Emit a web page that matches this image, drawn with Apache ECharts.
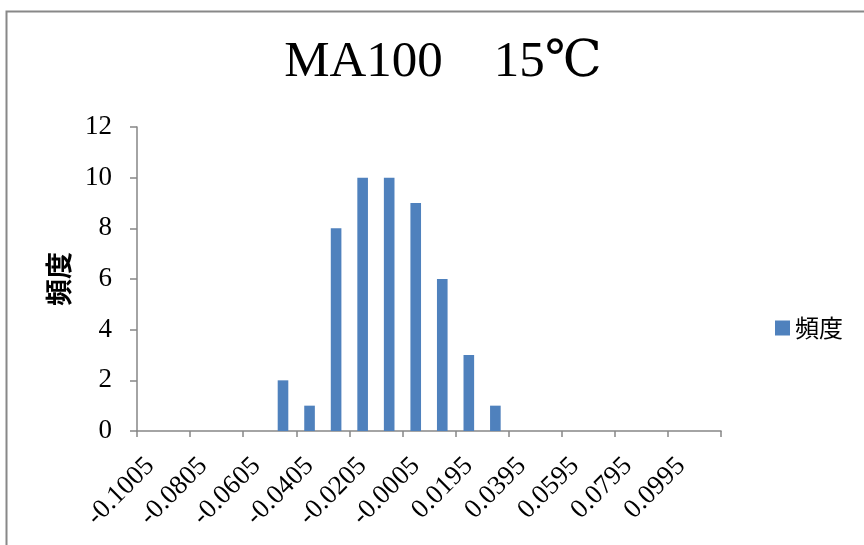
<!DOCTYPE html>
<html><head><meta charset="utf-8">
<script src="https://cdn.jsdelivr.net/npm/echarts@6/dist/echarts.min.js"></script>
<style>html,body{margin:0;padding:0;background:#fff}#c{width:864px;height:545px}</style>
</head><body><div id="c"></div>
<script>
const categories = ["-0.1005","-0.0905","-0.0805","-0.0705","-0.0605","-0.0505","-0.0405","-0.0305","-0.0205","-0.0105","-0.0005","0.0095","0.0195","0.0295","0.0395","0.0495","0.0595","0.0695","0.0795","0.0895","0.0995","次の級"];
const freq = [0,0,0,0,0,2,1,8,10,10,9,6,3,1,0,0,0,0,0,0,0,0];
const yTicks = [0,2,4,6,8,10,12];
const titleText = "MA100　15℃";
const seriesName = "頻度";

const chart = echarts.init(document.getElementById('c'));
const serif = "'Liberation Serif','DejaVu Serif',serif";
chart.setOption({
  animation:false,
  backgroundColor:'#fff',
  title:{text:titleText,left:438,textAlign:'center',top:32,textStyle:{fontFamily:serif,fontSize:51,fontWeight:'normal',color:'#000'}},
  legend:{data:[seriesName],left:770,top:311,itemWidth:15,itemHeight:15,itemGap:4,
    textStyle:{fontFamily:"'Noto Sans CJK JP'",fontSize:24,color:'#000'},icon:'rect'},
  grid:{left:137,right:143,top:127,bottom:114},
  xAxis:{type:'category',data:categories,
    axisLine:{lineStyle:{color:'#868686',width:1.5}},
    axisTick:{show:true,length:6,alignWithLabel:false,lineStyle:{color:'#868686',width:1.5}},
    axisLabel:{interval:1,rotate:45,fontFamily:serif,fontSize:27,color:'#000',margin:31,
      formatter:function(v){return v==="次の級"?"":v;}}},
  yAxis:{type:'value',min:yTicks[0],max:yTicks[yTicks.length-1],interval:2,
    name:seriesName,nameLocation:'middle',nameGap:65,nameRotate:90,
    nameTextStyle:{fontFamily:"'Noto Sans CJK JP'",fontSize:27,fontWeight:'bold',color:'#000'},
    axisLine:{show:true,lineStyle:{color:'#868686',width:1.5}},
    axisTick:{show:true,length:7,lineStyle:{color:'#868686',width:1.5}},
    splitLine:{show:false},
    axisLabel:{fontFamily:serif,fontSize:27,color:'#000',margin:25}},
  series:[{name:seriesName,type:'bar',data:freq,barWidth:'40%',
    itemStyle:{color:'#4f81bd'}}],
  graphic:[{type:'rect',shape:{x:6.5,y:11.5,width:1000,height:1000},
    style:{fill:'none',stroke:'#888888',lineWidth:2},silent:true,z:-1}]
});
</script></body></html>
